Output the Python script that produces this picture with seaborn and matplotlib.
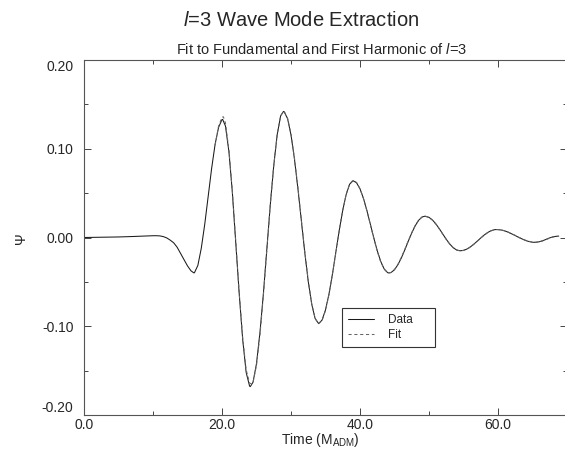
import matplotlib
matplotlib.use("Agg")
import matplotlib.pyplot as plt
import seaborn as sns
import pandas as pd
from matplotlib.lines import Line2D
from matplotlib.ticker import FixedLocator

# ---- waveform samples: Psi(t) ----
t_data = [
    0, 1, 2, 3, 4, 5, 6, 7, 8, 9, 10,
    10.5, 11, 11.5, 12, 12.5, 13, 13.5, 14, 14.5, 15, 15.5, 15.9,
    16, 16.5, 17, 17.5, 18, 18.5, 19, 19.5, 20, 20.1,
    20.5, 21, 21.5, 22, 22.5, 23, 23.5, 24, 24.1,
    24.5, 25, 25.5, 26, 26.5, 27, 27.5, 28, 28.5, 28.9,
    29, 29.5, 30, 30.5, 31, 31.5, 32, 32.5, 33, 33.5, 34,
    34.5, 35, 35.5, 36, 36.5, 37, 37.5, 38, 38.5, 39,
    39.5, 40, 40.5, 41, 41.5, 42, 42.5, 43, 43.5, 44, 44.2,
    44.5, 45, 45.5, 46, 46.5, 47, 47.5, 48, 48.5, 49, 49.4,
    50, 50.5, 51, 51.5, 52, 52.5, 53, 53.5, 54, 54.5,
    55, 55.5, 56, 56.5, 57, 57.5, 58, 58.5, 59, 59.5, 59.8,
    60.5, 61, 61.5, 62, 62.5, 63, 63.5, 64, 64.5, 65, 65.4,
    66, 66.5, 67, 67.5, 68, 68.5, 68.8,
]
psi_data = [
    0.0000, 0.0001, 0.0002, 0.0003, 0.0004, 0.0006, 0.0008, 0.0011, 0.0014, 0.0018, 0.0020,
    0.0020, 0.0018, 0.0010, -0.0005, -0.0030, -0.0060, -0.0110, -0.0180, -0.0250, -0.0320, -0.0375, -0.0398,
    -0.0398, -0.0315, -0.0120, 0.0150, 0.0465, 0.0780, 0.1050, 0.1240, 0.1329, 0.1330,
    0.1256, 0.0969, 0.0508, -0.0057, -0.0640, -0.1150, -0.1520, -0.1675, -0.1680,
    -0.1630, -0.1420, -0.1070, -0.0630, -0.0130, 0.0370, 0.0810, 0.1160, 0.1370, 0.1420,
    0.1418, 0.1340, 0.1156, 0.0885, 0.0552, 0.0188, -0.0172, -0.0495, -0.0751, -0.0914, -0.0970,
    -0.0931, -0.0816, -0.0638, -0.0414, -0.0165, 0.0084, 0.0308, 0.0486, 0.0601, 0.0640,
    0.0616, 0.0548, 0.0441, 0.0304, 0.0151, -0.0004, -0.0149, -0.0269, -0.0354, -0.0396, -0.0400,
    -0.0395, -0.0363, -0.0306, -0.0229, -0.0138, -0.0041, 0.0051, 0.0132, 0.0194, 0.0231, 0.0240,
    0.0227, 0.0197, 0.0153, 0.0098, 0.0039, -0.0020, -0.0073, -0.0114, -0.0141, -0.0150,
    -0.0145, -0.0130, -0.0106, -0.0075, -0.0041, -0.0005, 0.0028, 0.0056, 0.0077, 0.0088, 0.0090,
    0.0084, 0.0074, 0.0059, 0.0041, 0.0022, 0.0001, -0.0017, -0.0034, -0.0046, -0.0053, -0.0055,
    -0.0048, -0.0036, -0.0020, -0.0004, 0.0008, 0.0014, 0.0016,
]

# ---- fundamental + first harmonic fit ----
t_fit = [
    19, 19.5, 20, 20.2, 20.5, 21, 21.5, 22, 22.5, 23, 23.5, 24, 24.3,
    24.5, 25, 25.5, 26, 26.5, 27, 27.5, 28, 28.5, 29, 29.5, 30,
    30.5, 31, 31.5, 32, 32.5, 33, 33.5, 34, 34.5, 35, 35.5, 36,
    36.5, 37, 37.5, 38, 38.5, 39, 39.5, 40, 40.5, 41, 41.5, 42,
    42.5, 43, 43.5, 44, 44.5, 45, 45.5, 46, 46.5, 47, 47.5, 48,
    48.5, 49, 49.5, 50, 50.5, 51, 51.5, 52, 52.5, 53, 53.5, 54,
    54.5, 55, 55.5, 56, 56.5, 57, 57.5, 58, 58.5, 59, 59.5, 60,
    60.5, 61, 61.5, 62, 62.5, 63, 63.5, 64, 64.5, 65, 65.5, 66,
    66.5, 67, 67.5, 68, 68.5,
]
psi_fit = [
    0.1040, 0.1255, 0.1355, 0.1360, 0.1290, 0.0990, 0.0520, -0.0050, -0.0630, -0.1130, -0.1490, -0.1640, -0.1650,
    -0.1630, -0.1440, -0.1100, -0.0650, -0.0140, 0.0370, 0.0810, 0.1160, 0.1375, 0.1425, 0.1345, 0.1165,
    0.0895, 0.0565, 0.0200, -0.0160, -0.0485, -0.0745, -0.0912, -0.0972, -0.0935, -0.0822, -0.0645, -0.0420,
    -0.0170, 0.0082, 0.0308, 0.0488, 0.0605, 0.0645, 0.0620, 0.0550, 0.0440, 0.0300, 0.0146, -0.0010,
    -0.0155, -0.0274, -0.0357, -0.0397, -0.0394, -0.0360, -0.0301, -0.0223, -0.0132, -0.0036, 0.0055, 0.0135,
    0.0196, 0.0232, 0.0240, 0.0226, 0.0195, 0.0150, 0.0095, 0.0036, -0.0022, -0.0074, -0.0114, -0.0140,
    -0.0150, -0.0146, -0.0131, -0.0107, -0.0076, -0.0042, -0.0007, 0.0026, 0.0054, 0.0075, 0.0087, 0.0090,
    0.0085, 0.0075, 0.0060, 0.0042, 0.0023, 0.0003, -0.0015, -0.0031, -0.0043, -0.0051, -0.0053, -0.0048,
    -0.0037, -0.0022, -0.0007, 0.0006, 0.0013,
]

x_major = [0, 20, 40, 60]
x_labels = ["0.0", "20.0", "40.0", "60.0"]
y_major = [-0.2, -0.1, 0.0, 0.1, 0.2]
y_labels = ["-0.20", "-0.10", "0.00", "0.10", "0.20"]

sns.set_style("ticks")
plt.rcParams["font.family"] = ["Liberation Sans", "DejaVu Sans"]
plt.rcParams["mathtext.fontset"] = "custom"
plt.rcParams["mathtext.rm"] = "Liberation Sans"
plt.rcParams["mathtext.it"] = "Liberation Sans:italic"
plt.rcParams["axes.unicode_minus"] = False

W, H = 565, 450
fig = plt.figure(figsize=(W / 100, H / 100), dpi=100)
ax = fig.add_axes([84 / W, 35 / H, 483 / W, 355 / H])

df_data = pd.DataFrame({"Time": t_data, "Psi": psi_data})
df_fit = pd.DataFrame({"Time": t_fit, "Psi": psi_fit})

data_style = dict(color="#1a1a1a", linewidth=0.75)
fit_style = dict(color="#666666", linewidth=0.75, linestyle=(0, (3.0, 2.6)))

sns.lineplot(data=df_data, x="Time", y="Psi", ax=ax, sort=False,
             estimator=None, **data_style)
sns.lineplot(data=df_fit, x="Time", y="Psi", ax=ax, sort=False,
             estimator=None, **fit_style)

ax.set_xlim(0, 70)
ax.set_ylim(-0.2, 0.2)
ax.set_xlabel("")
ax.set_ylabel("")

ax.set_xticks(x_major)
ax.set_xticklabels(x_labels)
ax.xaxis.set_minor_locator(FixedLocator([10, 30, 50]))
ax.set_yticks(y_major)
ax.set_yticklabels(y_labels)
ax.yaxis.set_minor_locator(FixedLocator([-0.15, -0.05, 0.05, 0.15]))

ax.tick_params(which="both", direction="in", top=True, right=True,
               color="#444444", width=0.7)
ax.tick_params(which="major", length=5)
ax.tick_params(which="minor", length=3)
ax.tick_params(axis="x", labelsize=10, pad=2)
ax.tick_params(axis="y", labelsize=10, pad=7.5)

ylabs = ax.get_yticklabels()
ylabs[0].set_va("bottom")
ylabs[-1].set_va("top")

for s in ax.spines.values():
    s.set_color("#555555")
    s.set_linewidth(0.8)

handles = [Line2D([], [], **data_style), Line2D([], [], **fit_style)]
leg = ax.legend(handles, ["Data", "Fit"], loc="upper left",
                bbox_to_anchor=(0.534, 0.2113, 0.193, 0.0901), mode="expand",
                borderaxespad=0, fontsize=8.5, frameon=True, fancybox=False,
                framealpha=1, edgecolor="#333333", handlelength=2.2,
                handletextpad=1.2, borderpad=0.5, labelspacing=0.25)
leg.get_frame().set_linewidth(0.8)

fig.text(301 / W, 1 - 21 / H, r"$\mathit{l}$=3 Wave Mode Extraction",
         fontsize=14.5, ha="center", va="center")
fig.text(322 / W, 1 - 49 / H, r"Fit to Fundamental and First Harmonic of $\mathit{l}$=3",
         fontsize=10.5, ha="center", va="center")
fig.text(320 / W, 1 - 440 / H, r"Time (M$_{\mathrm{ADM}}$)",
         fontsize=10, ha="center", va="center")
fig.text(21 / W, 1 - 238 / H, "Ψ", fontsize=10, rotation=90,
         ha="center", va="center")

fig.savefig("out.png", dpi=100)
